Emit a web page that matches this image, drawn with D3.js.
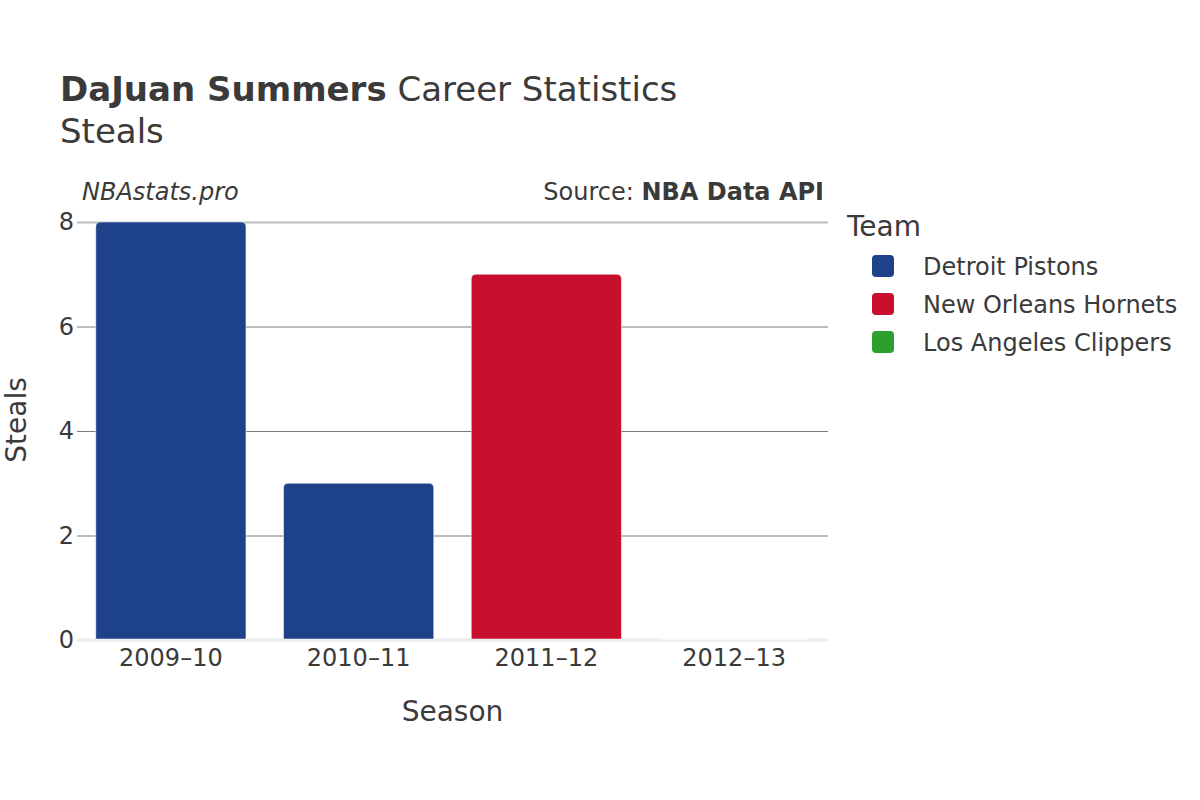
<!DOCTYPE html>
<html>
<head>
<meta charset="utf-8">
<script src="https://cdn.jsdelivr.net/npm/d3@7"></script>
<style>
  body { margin: 0; background: #fff; }
  text { font-family: "DejaVu Sans", sans-serif; fill: #3a3a3a; }
</style>
</head>
<body>
<svg id="chart"></svg>
<script>
// Data
const seasons = ["2009\u201310", "2010\u201311", "2011\u201312", "2012\u201313"];
const steals = [8, 3, 7, 0];
const seasonTeam = ["Detroit Pistons", "Detroit Pistons", "New Orleans Hornets", "Los Angeles Clippers"];
const teams = ["Detroit Pistons", "New Orleans Hornets", "Los Angeles Clippers"];
const teamColors = ["#1d428a", "#c8102e", "#2ca02c"];
const yTicks = [0, 2, 4, 6, 8];

const width = 1200, height = 800;
const margin = { top: 222, bottom: 160, left: 77, right: 372 };

const svg = d3.select("#chart")
  .attr("width", width)
  .attr("height", height);

const data = seasons.map((s, i) => ({ season: s, steals: steals[i], team: seasonTeam[i] }));

const x = d3.scaleBand()
  .domain(seasons)
  .range([margin.left, width - margin.right])
  .paddingInner(0.2)
  .paddingOuter(0.1);

const y = d3.scaleLinear()
  .domain([0, 8])
  .range([height - margin.bottom, margin.top]);

const color = d3.scaleOrdinal()
  .domain(teams)
  .range(teamColors);

// Gridlines (top one lighter, as in the original)
svg.append("g")
  .selectAll("line")
  .data(yTicks.filter(d => d > 0))
  .enter()
  .append("line")
  .attr("x1", margin.left)
  .attr("x2", width - margin.right)
  .attr("y1", d => y(d) + 0.5)
  .attr("y2", d => y(d) + 0.5)
  .attr("stroke", d => d === 8 ? "#bdbdbd" : "#7a7a7a")
  .attr("stroke-width", d => d === 8 ? 2 : 1);

// Zero line
svg.append("line")
  .attr("x1", margin.left)
  .attr("x2", width - margin.right)
  .attr("y1", y(0))
  .attr("y2", y(0))
  .attr("stroke", "#ebebeb")
  .attr("stroke-width", 3);

// Y tick labels
svg.append("g")
  .selectAll("text")
  .data(yTicks)
  .enter()
  .append("text")
  .attr("x", margin.left - 3)
  .attr("y", d => y(d))
  .attr("dy", "0.35em")
  .attr("text-anchor", "end")
  .style("font-size", "24px")
  .text(d => d);

// Bars with rounded top corners
const r = 5;
function barPath(d) {
  const x0 = x(d.season), w = x.bandwidth();
  const yb = y(0) - 1, yt = y(d.steals);
  const h = yb - yt;
  if (h <= 0) return `M${x0},${yb}H${x0 + w}`;
  const rr = Math.min(r, h);
  return `M${x0},${yb}V${yt + rr}Q${x0},${yt} ${x0 + rr},${yt}H${x0 + w - rr}Q${x0 + w},${yt} ${x0 + w},${yt + rr}V${yb}Z`;
}

svg.append("g")
  .selectAll("path")
  .data(data)
  .enter()
  .append("path")
  .attr("d", barPath)
  .attr("fill", d => color(d.team))
  .attr("stroke", d => d.steals > 0 ? "rgba(255,255,255,0.5)" : "#f7f7f7")
  .attr("stroke-width", d => d.steals > 0 ? 1 : 2);

// X tick labels
svg.append("g")
  .selectAll("text")
  .data(seasons)
  .enter()
  .append("text")
  .attr("x", d => x(d) + x.bandwidth() / 2)
  .attr("y", 666)
  .attr("text-anchor", "middle")
  .style("font-size", "24px")
  .text(d => d);

// Axis titles
svg.append("text")
  .attr("x", (margin.left + width - margin.right) / 2)
  .attr("y", 721)
  .attr("text-anchor", "middle")
  .style("font-size", "28px")
  .text("Season");

svg.append("text")
  .attr("transform", `translate(26,420) rotate(-90)`)
  .attr("text-anchor", "middle")
  .style("font-size", "28px")
  .text("Steals");

// Title
const title = svg.append("text")
  .attr("x", 60)
  .attr("y", 101)
  .style("font-size", "34px");
title.append("tspan").style("font-weight", "bold").text("DaJuan Summers");
title.append("tspan").text(" Career Statistics");

svg.append("text")
  .attr("x", 60)
  .attr("y", 143)
  .style("font-size", "34px")
  .text("Steals");

// Subtitles
svg.append("text")
  .attr("x", 82)
  .attr("y", 200)
  .style("font-size", "24px")
  .style("font-style", "italic")
  .text("NBAstats.pro");

const source = svg.append("text")
  .attr("x", 824)
  .attr("y", 200)
  .attr("text-anchor", "end")
  .style("font-size", "24px");
source.append("tspan").text("Source: ");
source.append("tspan").style("font-weight", "bold").text("NBA Data API");

// Legend
const legend = svg.append("g")
  .attr("transform", "translate(847,0)");

legend.append("text")
  .attr("x", 0)
  .attr("y", 236)
  .style("font-size", "28px")
  .text("Team");

teams.forEach((team, i) => {
  const cy = 266 + i * 38;
  legend.append("rect")
    .attr("x", 25)
    .attr("y", cy - 11)
    .attr("width", 22)
    .attr("height", 22)
    .attr("rx", 4)
    .attr("fill", color(team));
  legend.append("text")
    .attr("x", 76)
    .attr("y", cy + 1)
    .attr("dy", "0.35em")
    .style("font-size", "24px")
    .text(team);
});
</script>
</body>
</html>
